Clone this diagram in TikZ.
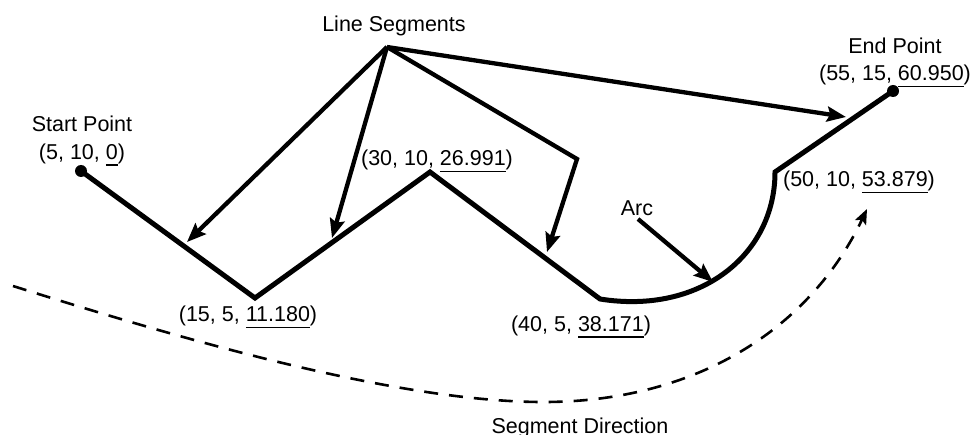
\documentclass[tikz,border=0pt]{standalone}
\usepackage{fontspec}
\setmainfont{Liberation Sans}
\usetikzlibrary{arrows.meta}
\newcommand\myul[1]{\setbox0\hbox{#1}\rlap{\rule[-6.5pt]{\wd0}{1.4pt}}\box0}
\tikzset{
  mainline/.style={line width=5pt, line join=miter},
  pointer/.style={line width=4.3pt, line join=miter, -{Stealth[length=19pt,width=15pt,inset=3pt]}},
  dirline/.style={line width=2.6pt, dash pattern=on 14pt off 11pt, -{Stealth[length=15pt,width=12pt,inset=3pt]}},
  lbl/.style={font=\fontsize{21.5}{27.5}\selectfont, inner sep=0pt, anchor=base},
  dot/.style={circle, fill=black, inner sep=0pt, minimum size=12pt}
}
\begin{document}
\begin{tikzpicture}[x=1pt,y=-1pt]
\useasboundingbox (0,0) rectangle (973,435);
% vertices
\node[dot] (start) at (81,171) {};
\coordinate (v1) at (255,298);
\coordinate (v2) at (430,172);
\coordinate (v3) at (600,299);
\coordinate (v4) at (775,172);
\node[dot] (end) at (893,91) {};
% main path
\draw[mainline] (start.center) -- (v1) -- (v2) -- (v3)
  .. controls (700,315) and (775,255) .. (v4) -- (end.center);
% labels
\node[lbl] (lseg) at (394,31.7) {Line Segments};
\node[lbl] (lstart) at (82,131.7) {Start Point};
\node[lbl] (cstart) at (82,159.3) {(5, 10, \myul{0})};
\node[lbl] (lend) at (895,53.3) {End Point};
\node[lbl] (cend) at (895,80.5) {(55, 15, \myul{60.950})};
\node[lbl] (c2) at (437,166) {(30, 10, \myul{26.991})};
\node[lbl] (c4) at (859,186.7) {(50, 10, \myul{53.879})};
\node[lbl] (c1) at (248,321.7) {(15, 5, \myul{11.180})};
\node[lbl] (c3) at (581,331) {(40, 5, \myul{38.171})};
\node[lbl] (larc) at (637,216) {Arc};
\node[lbl] (ldir) at (580,433) {Segment Direction};
% pointers from Line Segments
\coordinate (apex) at (387,47);
\coordinate (t1) at (187,242);
\coordinate (t2) at (332,238);
\coordinate (bend) at (577,159);
\coordinate (t3) at (547,252);
\coordinate (t4) at (846,117);
\draw[pointer] (apex) -- (t1);
\draw[pointer] (apex) -- (t2);
\draw[pointer] (apex) -- (bend) -- (t3);
\draw[pointer] (apex) -- (t4);
% arc pointer
\coordinate (arcs) at (638,219);
\coordinate (arct) at (713,282);
\draw[pointer] (arcs) -- (arct);
% direction
\coordinate (d0) at (13,286);
\coordinate (d1) at (540,402);
\coordinate (d2) at (867,209);
\draw[dirline] (d0) .. controls (200,345) and (400,401) .. (d1)
  .. controls (700,403) and (812,325) .. (d2);
\end{tikzpicture}
\end{document}
